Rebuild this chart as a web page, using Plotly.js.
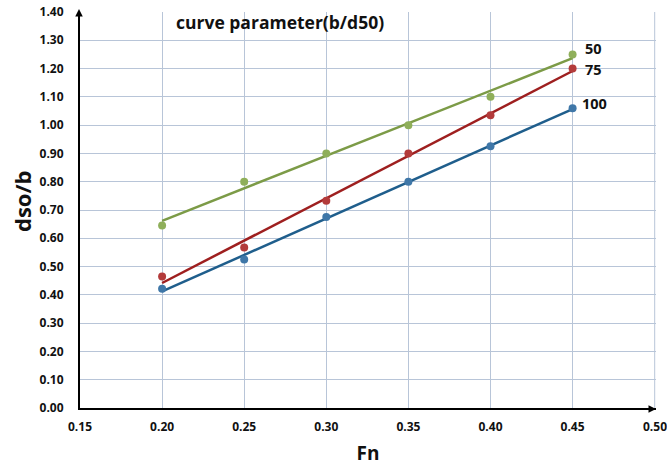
<!DOCTYPE html>
<html>
<head>
<meta charset="utf-8">
<script src="https://cdn.plot.ly/plotly-3.0.1.min.js"></script>
<style>html,body{margin:0;padding:0;background:#fff;}#chart{width:667px;height:466px;}</style>
</head>
<body>
<div id="chart"></div>
<script>
var fn = [0.20, 0.25, 0.30, 0.35, 0.40, 0.45];
var seriesNames = ["50", "75", "100"];
var y50 = [0.645, 0.80, 0.90, 1.00, 1.10, 1.25];
var y75 = [0.465, 0.567, 0.733, 0.90, 1.035, 1.20];
var y100 = [0.422, 0.525, 0.675, 0.80, 0.925, 1.06];
var xTicks = [0.15, 0.20, 0.25, 0.30, 0.35, 0.40, 0.45, 0.50];
var yTicks = [0.0, 0.1, 0.2, 0.3, 0.4, 0.5, 0.6, 0.7, 0.8, 0.9, 1.0, 1.1, 1.2, 1.3, 1.4];

var markerColors = ["#8FAF5A", "#B33B3B", "#3F77A8"];
var lineColors = ["#7C9B47", "#9E1F1F", "#1F5E8C"];
var allY = [y50, y75, y100];

function fit(x, y) {
  var n = x.length, mx = 0, my = 0;
  for (var i = 0; i < n; i++) { mx += x[i]; my += y[i]; }
  mx /= n; my /= n;
  var sxy = 0, sxx = 0;
  for (var i = 0; i < n; i++) { sxy += (x[i]-mx)*(y[i]-my); sxx += (x[i]-mx)*(x[i]-mx); }
  var b = sxy / sxx, a = my - b*mx;
  return x.map(function(v){ return a + b*v; });
}

var traces = [];
allY.forEach(function(ys, i) {
  traces.push({x: fn, y: fit(fn, ys), mode: "lines", type: "scatter",
    line: {color: lineColors[i], width: 2.5}, hoverinfo: "skip", showlegend: false});
});
allY.forEach(function(ys, i) {
  traces.push({x: fn, y: ys, mode: "markers", type: "scatter", name: seriesNames[i],
    marker: {color: markerColors[i], size: 8}, showlegend: false});
});

var fontF = "Open Sans, Liberation Sans, sans-serif";
var tickFont = {family: fontF, size: 12, color: "#111", weight: "bold"};
var lastX = xTicks[xTicks.length - 1];
var lblFont = {family: fontF, size: 14.5, color: "#111", weight: "bold"};
var annotations = [
  {x: 0.207, y: 1.365, xref: "x", yref: "y", text: "curve parameter(b/d50)", showarrow: false,
   xanchor: "left", yanchor: "middle", font: {family: fontF, size: 17.5, color: "#111", weight: "bold"}},
  {x: 0.4565, y: 1.272, xref: "x", yref: "y", text: seriesNames[0], showarrow: false,
   xanchor: "left", yanchor: "middle", font: lblFont},
  {x: 0.4565, y: 1.198, xref: "x", yref: "y", text: seriesNames[1], showarrow: false,
   xanchor: "left", yanchor: "middle", font: lblFont},
  {x: 0.4545, y: 1.075, xref: "x", yref: "y", text: seriesNames[2], showarrow: false,
   xanchor: "left", yanchor: "middle", font: lblFont},
  {x: lastX, y: 0, xref: "x", yref: "paper", yshift: -8, text: lastX.toFixed(2), showarrow: false,
   xanchor: "center", yanchor: "top", font: tickFont},
  {x: 0, y: 0.5, xref: "paper", yref: "paper", xshift: -58, yshift: 9, text: "dso/b", textangle: -90,
   showarrow: false, xanchor: "center", yanchor: "middle",
   font: {family: fontF, size: 22, color: "#111", weight: "bold"}},
  {x: 0, y: 1, xref: "paper", yref: "paper", xshift: -1, yshift: 3, ax: 0, ay: 25, axref: "pixel", ayref: "pixel",
   text: "", showarrow: true, arrowhead: 2, arrowsize: 1, arrowwidth: 1.5, arrowcolor: "#000"},
  {x: 1, y: 0, xref: "paper", yref: "paper", yshift: -1, ax: -25, ay: 0, axref: "pixel", ayref: "pixel",
   text: "", showarrow: true, arrowhead: 2, arrowsize: 1, arrowwidth: 1.5, arrowcolor: "#000"}
];

var layout = {
  width: 667, height: 466,
  margin: {l: 80, r: 11, t: 12, b: 58},
  paper_bgcolor: "#fff", plot_bgcolor: "#fff",
  showlegend: false,
  xaxis: {
    range: [0.15, 0.5008], tickvals: xTicks.slice(0, -1), ticktext: xTicks.slice(0, -1).map(function(v){return v.toFixed(2);}),
    showgrid: true, gridcolor: "#B8C5D8", gridwidth: 1,
    zeroline: false, showline: true, linecolor: "#000", linewidth: 2,
    ticks: "", tickfont: tickFont, ticklabelstandoff: 7,
    title: {text: "Fn", font: {family: fontF, size: 19, color: "#111", weight: "bold"}, standoff: 12}
  },
  yaxis: {
    range: [0, 1.40], tickvals: yTicks, ticktext: yTicks.map(function(v){return v.toFixed(2);}),
    showgrid: true, gridcolor: "#B8C5D8", gridwidth: 1,
    zeroline: false, showline: true, linecolor: "#000", linewidth: 2,
    ticks: "", tickfont: tickFont, ticklabelstandoff: 12
  },
  shapes: [
    {type: "line", xref: "x", yref: "y", x0: lastX, x1: lastX, y0: 0, y1: 1.40,
     line: {color: "#B8C5D8", width: 1}, layer: "below"}
  ],
  annotations: annotations
};
Plotly.newPlot("chart", traces, layout, {displayModeBar: false, staticPlot: true});
</script>
</body>
</html>
